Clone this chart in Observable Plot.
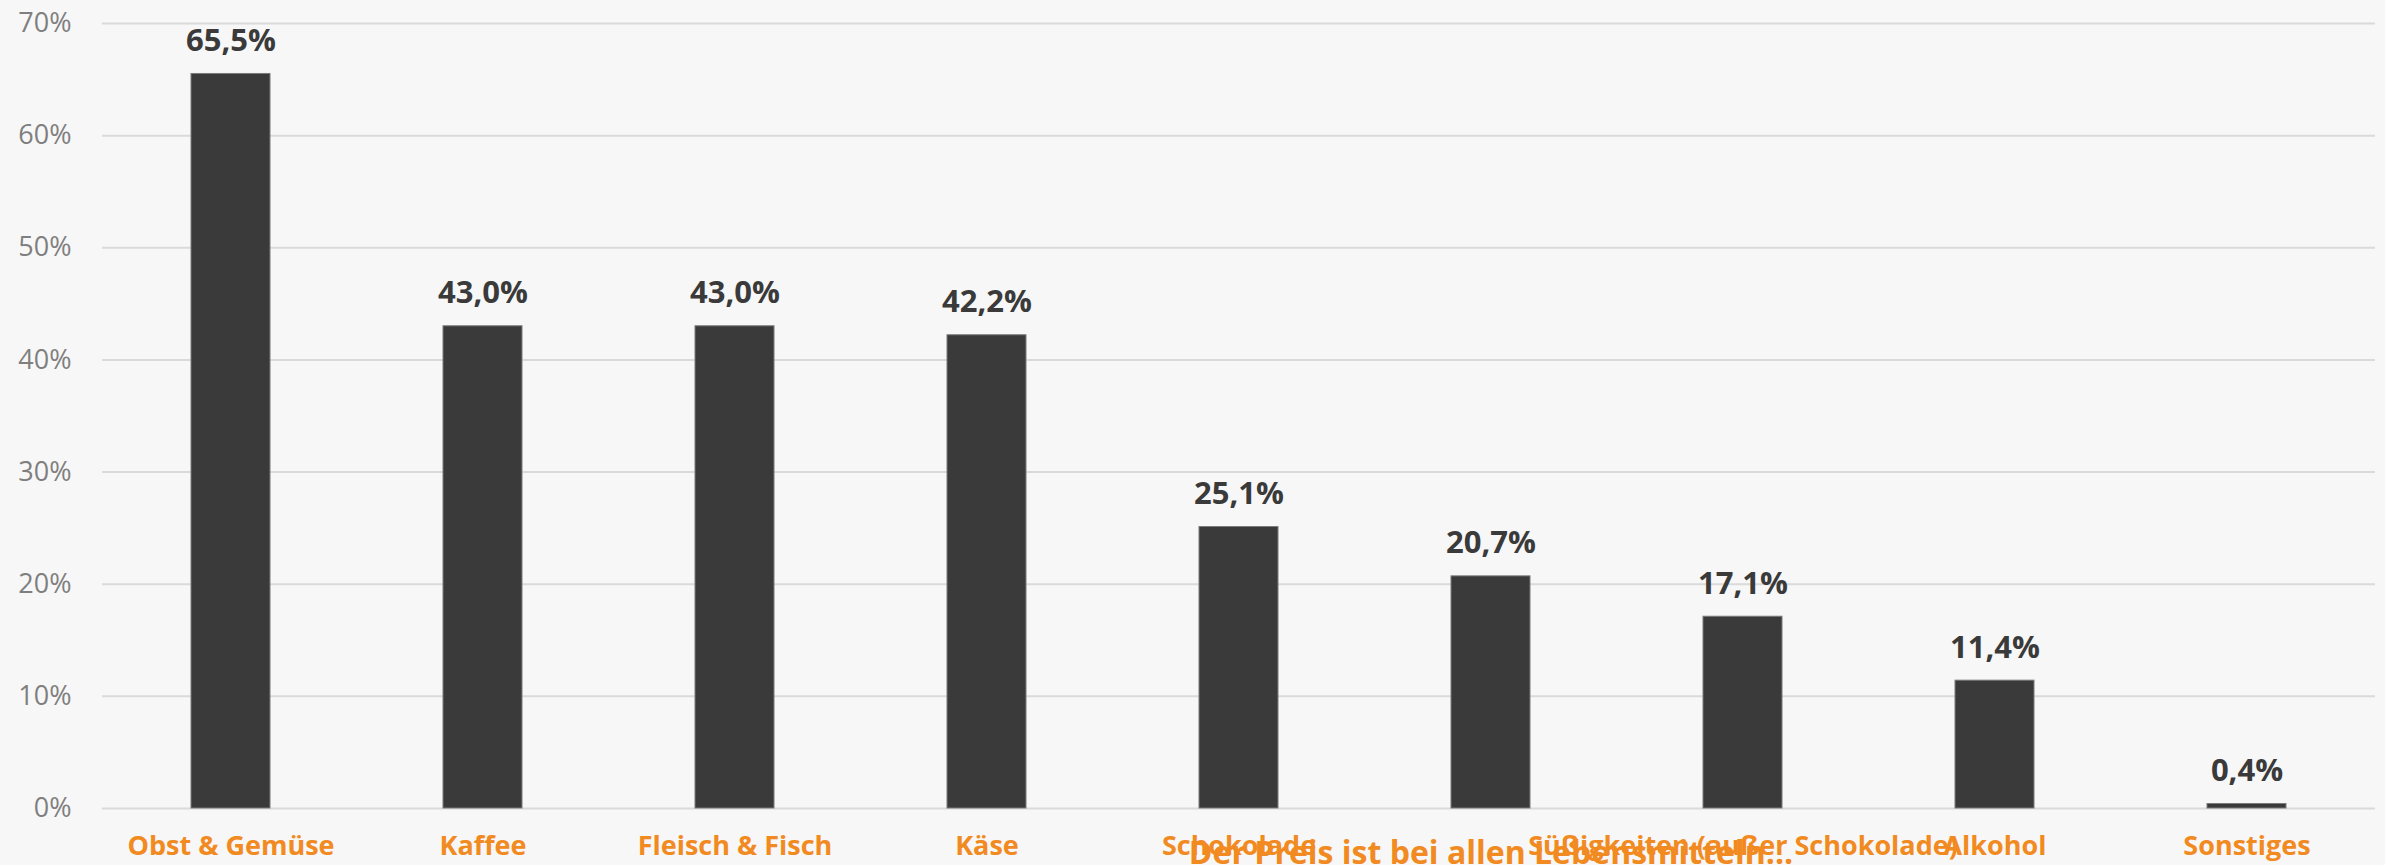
<!DOCTYPE html>
<html>
<head>
<meta charset="utf-8">
<script src="https://cdn.jsdelivr.net/npm/d3@7"></script>
<script src="https://cdn.jsdelivr.net/npm/@observablehq/plot@0.6"></script>
<style>
  html, body { margin: 0; padding: 0; background: #f7f7f7; }
  #chart svg { display: block; }
</style>
</head>
<body>
<div id="chart"></div>
<script>
const categories = [
  "Obst & Gemüse",
  "Kaffee",
  "Fleisch & Fisch",
  "Käse",
  "Schokolade",
  "Der Preis ist bei allen Lebensmitteln...",
  "Süßigkeiten (außer Schokolade)",
  "Alkohol",
  "Sonstiges"
];
const values = [65.5, 43.0, 43.0, 42.2, 25.1, 20.7, 17.1, 11.4, 0.4];
const yTicks = [0, 10, 20, 30, 40, 50, 60, 70];

const data = categories.map((c, i) => ({category: c, value: values[i]}));
const fmt = v => v.toFixed(1).replace(".", ",") + "%";
const orange = "#f28a22";
const isLong = d => d.category.length > 32;

const chart = Plot.plot({
  width: 2385,
  height: 865,
  marginLeft: 102,
  marginRight: 10,
  marginTop: 23,
  marginBottom: 57,
  style: {background: "#f7f7f7", fontFamily: "'Open Sans', sans-serif", overflow: "visible"},
  x: {domain: categories, paddingInner: 0.687, paddingOuter: 0.3435, axis: null},
  y: {domain: [0, 70], axis: null},
  marks: [
    Plot.ruleY(yTicks, {stroke: "#dadada", strokeWidth: 2}),
    Plot.axisY({
      ticks: yTicks,
      tickSize: 0,
      tickPadding: 31,
      tickFormat: d => d + "%",
      fontSize: 27,
      fill: "#7f7f7f",
      label: null
    }),
    Plot.barY(data, {
      x: "category",
      y: "value",
      fill: "#3a3a3a",
      stroke: "#7a7a7a",
      strokeWidth: 1
    }),
    Plot.text(data, {
      x: "category",
      y: "value",
      text: d => fmt(d.value),
      dy: -33,
      lineAnchor: "middle",
      fontSize: 31,
      fontWeight: "bold",
      fill: "#3a3a3a"
    }),
    Plot.text(data, {
      filter: d => !isLong(d),
      x: "category",
      frameAnchor: "bottom",
      text: "category",
      lineAnchor: "middle",
      dy: 38,
      fontSize: 27,
      fontWeight: "bold",
      fill: orange
    }),
    Plot.text(data, {
      filter: isLong,
      x: "category",
      frameAnchor: "bottom",
      text: "category",
      lineAnchor: "middle",
      dy: 45,
      fontSize: 32,
      fontWeight: "bold",
      fill: orange
    })
  ]
});
document.getElementById("chart").appendChild(chart);
</script>
</body>
</html>
